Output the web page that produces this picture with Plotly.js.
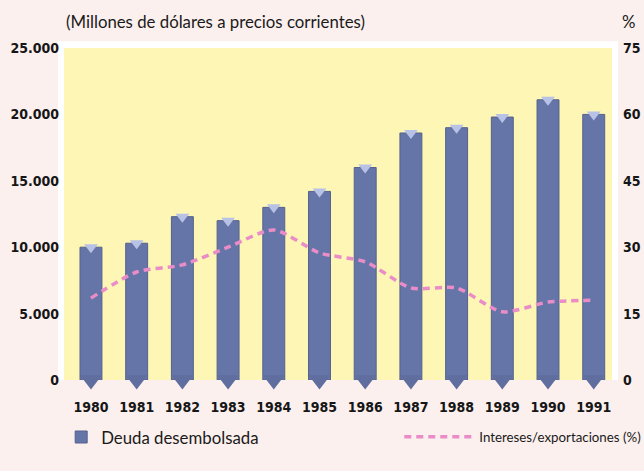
<!DOCTYPE html>
<html>
<head>
<meta charset="utf-8">
<script src="https://cdn.plot.ly/plotly-3.0.1.min.js"></script>
<style>html,body{margin:0;padding:0;background:#fbf0ee;}#chart{width:644px;height:471px;}</style>
</head>
<body>
<div id="chart"></div>
<script>
const years = ['1980','1981','1982','1983','1984','1985','1986','1987','1988','1989','1990','1991'];
const deuda = [10000, 10300, 12300, 12000, 13000, 14200, 16000, 18600, 19000, 19800, 21100, 20000];
const intereses = [18.5, 24.4, 26.0, 30.0, 33.9, 28.7, 26.7, 20.8, 20.8, 15.4, 17.6, 18.0];
const leftTicks = [0, 5000, 10000, 15000, 20000, 25000];
const rightTicks = [0, 15, 30, 45, 60, 75];
const baseZero = years.map(() => 0);

const tickFont = {family: '"DejaVu Sans Condensed", "Liberation Sans Narrow", sans-serif', size: 14, color: '#161616', weight: 'bold'};
const titleFont = {family: 'Lato, "Open Sans", sans-serif', size: 16.8, color: '#1a1a1a'};

const traces = [
  {type: 'bar', x: years, y: deuda, name: 'Deuda desembolsada', width: 0.48,
   marker: {color: '#6675a7', line: {color: '#55628f', width: 1}}, legend: 'legend', hoverinfo: 'skip'},
  {type: 'scatter', mode: 'markers', x: years, y: baseZero, showlegend: false, hoverinfo: 'skip',
   marker: {symbol: 'triangle-down', size: 19, color: '#5f6e9f', line: {width: 0}}, cliponaxis: false},
  {type: 'scatter', mode: 'markers', x: years, y: deuda, showlegend: false, hoverinfo: 'skip',
   marker: {symbol: 'triangle-down', size: 12, color: '#b7c2e6', line: {width: 0}}},
  {type: 'scatter', mode: 'lines', x: years, y: intereses, yaxis: 'y2', name: 'Intereses/exportaciones (%)',
   line: {color: '#e98cc8', width: 3.5, dash: '7px,5px', shape: 'spline', smoothing: 0.7}, legend: 'legend2', hoverinfo: 'skip'}
];

const layout = {
  width: 644, height: 471,
  margin: {l: 64, r: 32, t: 48, b: 91},
  paper_bgcolor: '#fbf0ee',
  plot_bgcolor: 'rgba(0,0,0,0)',
  separators: ',.',
  showlegend: true,
  xaxis: {type: 'category', range: [-0.59, 11.4], showgrid: false, zeroline: false, showline: false,
          ticks: '', tickfont: tickFont, ticklabelstandoff: 17, fixedrange: true, automargin: false},
  yaxis: {range: [0, 25000], tickvals: leftTicks, tickformat: ',d', showgrid: false, zeroline: false,
          showline: false, ticks: '', tickfont: tickFont, ticklabelstandoff: 4, fixedrange: true, automargin: false},
  yaxis2: {range: [0, 75], tickvals: rightTicks, overlaying: 'y', side: 'right', showgrid: false,
           zeroline: false, showline: false, ticks: '', tickfont: tickFont, ticklabelstandoff: 10, fixedrange: true, automargin: false},
  legend: {xref: 'container', yref: 'container', x: 0.095, y: 0.072, xanchor: 'left', yanchor: 'middle',
           orientation: 'h', bgcolor: 'rgba(0,0,0,0)', font: {family: 'Lato, sans-serif', size: 16.8, color: '#1a1a1a'}, itemwidth: 30},
  legend2: {xref: 'container', yref: 'container', x: 0.62, y: 0.072, xanchor: 'left', yanchor: 'middle',
            orientation: 'h', bgcolor: 'rgba(0,0,0,0)', font: {family: 'Lato, sans-serif', size: 13.3, color: '#1a1a1a'}, itemwidth: 70},
  shapes: [
    {type: 'rect', xref: 'paper', yref: 'paper', x0: -0.011, x1: 1.011, y0: 0, y1: 1.02,
     fillcolor: '#ffffff', line: {width: 0}, layer: 'below'},
    {type: 'rect', xref: 'paper', yref: 'paper', x0: 0, x1: 1, y0: 0, y1: 1,
     fillcolor: '#fdf6b4', line: {width: 0}, layer: 'below'}
  ],
  annotations: [
    {text: '(Millones de dólares a precios corrientes)', xref: 'paper', yref: 'paper', x: 0, y: 1.08,
     xanchor: 'left', yanchor: 'middle', showarrow: false, font: titleFont},
    {text: '%', xref: 'paper', yref: 'paper', x: 1.03, y: 1.08, xanchor: 'center', yanchor: 'middle',
     showarrow: false, font: titleFont}
  ]
};

Plotly.newPlot('chart', traces, layout, {displayModeBar: false, staticPlot: true});
</script>
</body>
</html>
